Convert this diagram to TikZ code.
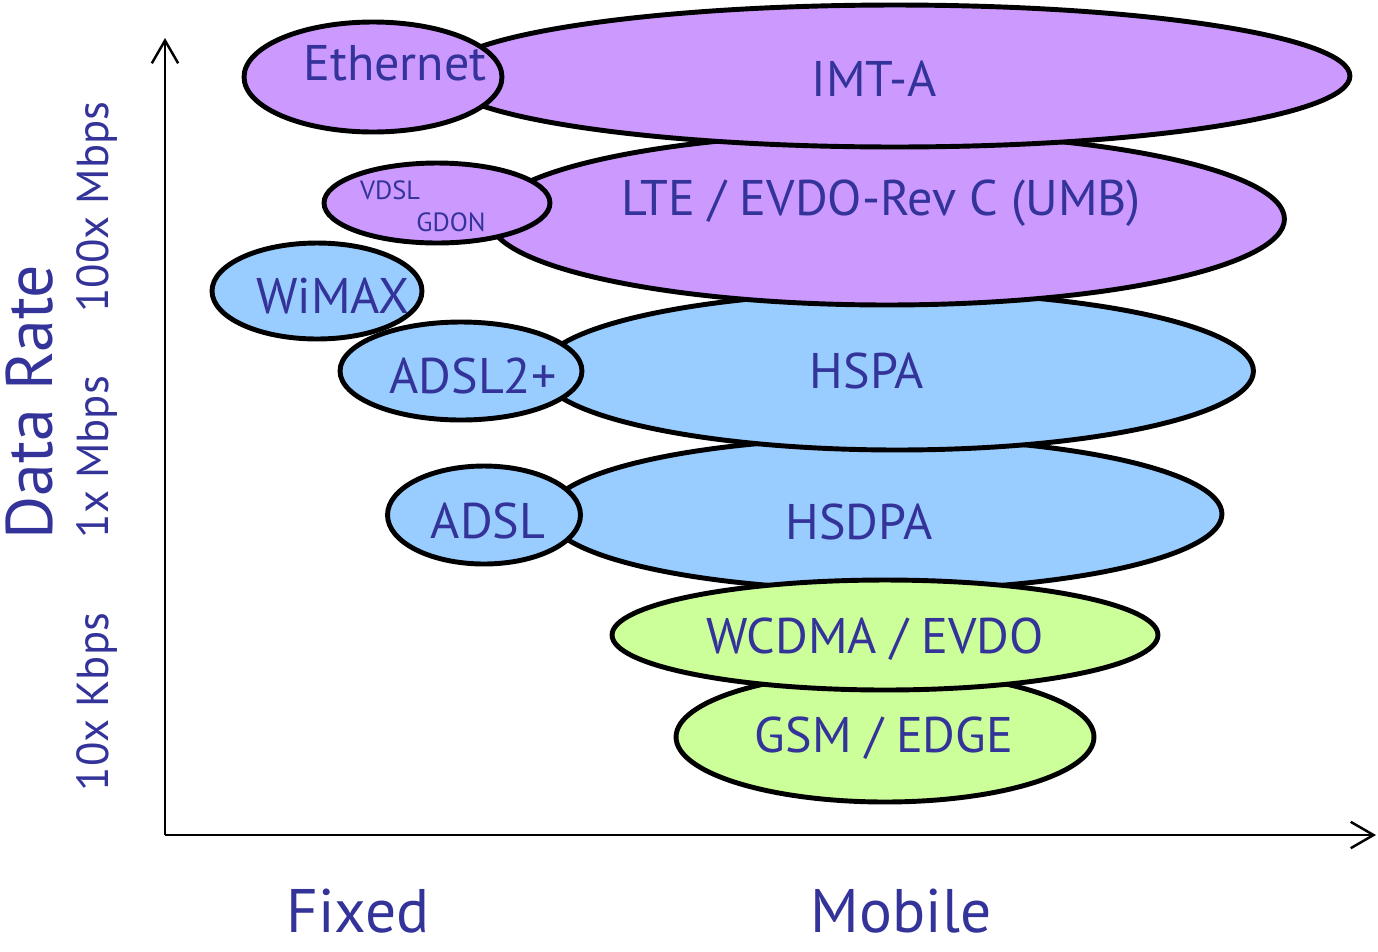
\documentclass[tikz,border=0pt]{standalone}
\usepackage{fontspec}
\setmainfont{PT Sans}
\usetikzlibrary{shapes.geometric,arrows.meta}
\definecolor{lila}{HTML}{CC99FF}
\definecolor{himmel}{HTML}{99CCFF}
\definecolor{lime}{HTML}{CCFF99}
\definecolor{schrift}{HTML}{333399}
\begin{document}
\begin{tikzpicture}[x=0.02cm,y=-0.02cm,>={Straight Barb[length=13pt,width=15pt]},
  blob/.style={ellipse,draw=black,line width=2.8pt,inner sep=0pt},
  lbl/.style={text=schrift,anchor=base,font=\fontsize{28.5}{30}\selectfont},
  small/.style={text=schrift,anchor=base,font=\fontsize{15}{16}\selectfont},
  ax/.style={text=schrift,rotate=90,anchor=base,font=\fontsize{25.5}{26}\selectfont}]
\useasboundingbox (0,0) rectangle (1378,951);
% axes
\coordinate (o) at (165,835);
\coordinate (ytop) at (165,38);
\coordinate (xend) at (1376,835);
\draw[->,line width=1.4pt] (o)--(ytop);
\draw[->,line width=1.4pt] (o)--(xend);
% mobile
\node[blob,fill=lime,minimum width=8.36cm,minimum height=2.6cm] (gsm) at (885,737){};
\node[blob,fill=himmel,minimum width=13.48cm,minimum height=3.04cm] (hsdpa) at (885,514){};
\node[blob,fill=lime,minimum width=10.92cm,minimum height=2.2cm] (wcdma) at (885,635){};
\node[blob,fill=himmel,minimum width=14.26cm,minimum height=3.16cm] (hspa) at (897,371){};
\node[blob,fill=lila,minimum width=15.9cm,minimum height=3.44cm] (lte) at (887,219){};
\node[blob,fill=lila,minimum width=18.2cm,minimum height=2.84cm] (imta) at (895,76){};
% fixed
\node[blob,fill=lila,minimum width=5.16cm,minimum height=2.2cm] (ethernet) at (373,77){};
\node[blob,fill=lila,minimum width=4.52cm,minimum height=1.6cm] (vdsl) at (437,203){};
\node[blob,fill=himmel,minimum width=4.2cm,minimum height=1.92cm] (wimax) at (317,291){};
\node[blob,fill=himmel,minimum width=4.84cm,minimum height=1.96cm] (adslplus) at (461,371){};
\node[blob,fill=himmel,minimum width=3.86cm,minimum height=1.96cm] (adsl) at (484,515){};
% labels
\node[lbl] (t-imta) at (874,96){IMT-A};
\node[lbl] (t-ethernet) at (395,80){Ethernet};
\node[lbl] (t-lte) at (881,215){LTE / EVDO-Rev C (UMB)};
\node[small] (t-vdsl) at (390,199){VDSL};
\node[small] (t-gdon) at (451,231){GDON};
\node[lbl] (t-wimax) at (333,313){WiMAX};
\node[lbl] (t-adslplus) at (473,393){ADSL2+};
\node[lbl] (t-hspa) at (867,388){HSPA};
\node[lbl] (t-adsl) at (488,538){ADSL};
\node[lbl] (t-hsdpa) at (859,539){HSDPA};
\node[lbl] (t-wcdma) at (875,653){WCDMA / EVDO};
\node[lbl] (t-gsm) at (884,752){GSM / EDGE};
% axis texts
\node[ax,font=\fontsize{37.5}{38}\selectfont] (rate) at (52,402){Data Rate};
\node[ax] (r100) at (108,207){100x Mbps};
\node[ax] (r1) at (108,457){1x Mbps};
\node[ax] (r10) at (108,702){10x Kbps};
\node[lbl,inner sep=0pt,font=\fontsize{35}{36}\selectfont] (fixed) at (358,932){Fixed};
\node[lbl,inner sep=0pt,font=\fontsize{35}{36}\selectfont] (mobile) at (901,932){Mobile};
\end{tikzpicture}
\end{document}
